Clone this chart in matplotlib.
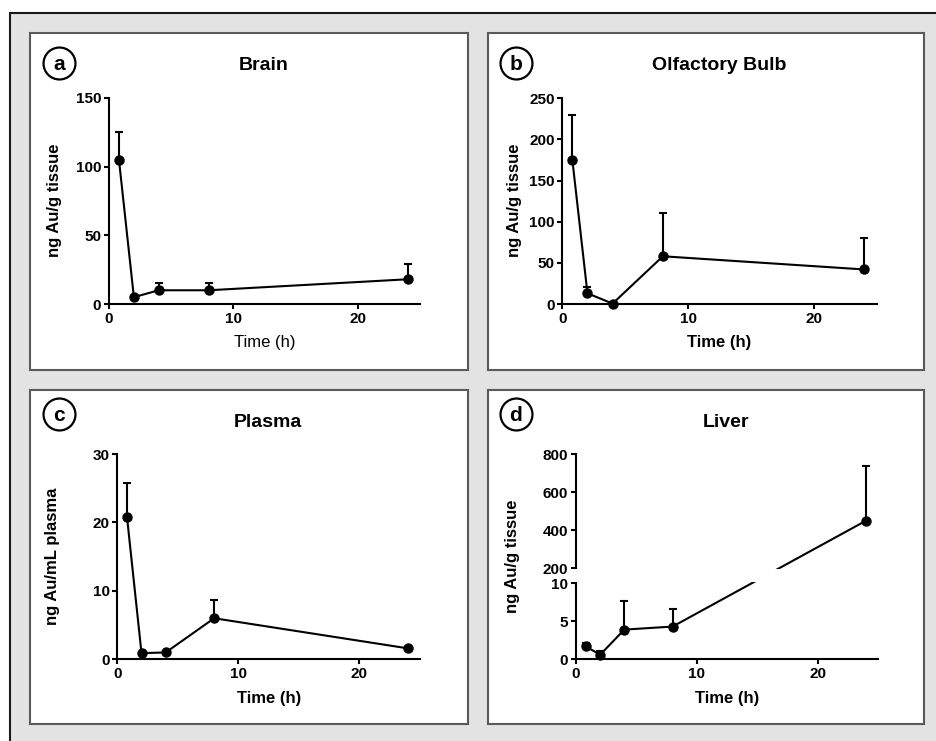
import numpy as np
import matplotlib
matplotlib.use("Agg")
import matplotlib.pyplot as plt
from matplotlib import font_manager
from matplotlib.patches import Rectangle
from matplotlib.lines import Line2D

# 采样时间 (h)
time_h = [0.8, 2, 4, 8, 24]
x_ticks = [0, 10, 20]

# 各组织金含量：均值与上误差
brain_mean = [105, 5, 10, 10, 18]
brain_err = [20, 0, 5, 5, 11]
brain_ticks = [0, 50, 100, 150]

bulb_mean = [175, 13, 0.5, 58, 42]
bulb_err = [55, 8, 0, 53, 38]
bulb_ticks = [0, 50, 100, 150, 200, 250]

plasma_mean = [20.8, 0.9, 1.0, 6.0, 1.6]
plasma_err = [4.9, 0, 0, 2.6, 0]
plasma_ticks = [0, 10, 20, 30]

liver_mean = [1.7, 0.6, 3.9, 4.3, 450]
liver_err = [0.4, 0.5, 3.8, 2.3, 290]
liver_ticks = [0, 5, 10, 200, 400, 600, 800]

titles = ["Brain", "Olfactory Bulb", "Plasma", "Liver"]
ylabels = ["ng Au/g tissue", "ng Au/g tissue", "ng Au/mL plasma", "ng Au/g tissue"]
letters = ["a", "b", "c", "d"]

W, H = 936, 741

# 字体：刻度用窄体
names = {f.name for f in font_manager.fontManager.ttflist}
if "Liberation Sans Narrow" in names:
    plt.rcParams["font.family"] = ["Liberation Sans Narrow", "Liberation Sans", "DejaVu Sans"]
    tick_size = 12
else:
    plt.rcParams["font.family"] = ["Liberation Sans", "DejaVu Sans"]
    tick_size = 11
plt.rcParams["font.weight"] = "bold"
MAIN = ["Liberation Sans", "DejaVu Sans"]


def px(x, y):
    return x / W, 1 - y / H


def ax_rect(left, top, right, bottom):
    return [left / W, 1 - bottom / H, (right - left) / W, (bottom - top) / H]


# 肝脏断轴：0-10 与 200-800 两段
LOW_TOP, HIGH_BOT = 10, 200
GAP, K = 1.97, 0.02493


def liver_fwd(y):
    y = np.asarray(y, dtype=float)
    mid = LOW_TOP + (y - LOW_TOP) / (HIGH_BOT - LOW_TOP) * GAP
    high = LOW_TOP + GAP + (y - HIGH_BOT) * K
    return np.where(y <= LOW_TOP, y, np.where(y >= HIGH_BOT, high, mid))


def liver_inv(t):
    t = np.asarray(t, dtype=float)
    mid = LOW_TOP + (t - LOW_TOP) / GAP * (HIGH_BOT - LOW_TOP)
    high = HIGH_BOT + (t - LOW_TOP - GAP) / K
    return np.where(t <= LOW_TOP, t, np.where(t >= LOW_TOP + GAP, high, mid))


fig = plt.figure(figsize=(W / 100, H / 100), dpi=100)
fig.patch.set_facecolor("white")

# 外框与面板底色
fig.add_artist(Rectangle((10 / W, -0.05), 1.1, 1 - 13 / H + 0.05, transform=fig.transFigure,
                         facecolor="#e3e3e3", edgecolor="#1a1a1a", lw=1.5, zorder=-2))
boxes = [(30, 33, 468, 370), (488, 33, 924, 370), (30, 390, 468, 724), (488, 390, 924, 724)]
for x0, y0, x1, y1 in boxes:
    fig.add_artist(Rectangle((x0 / W, 1 - y1 / H), (x1 - x0) / W, (y1 - y0) / H,
                             transform=fig.transFigure, facecolor="white",
                             edgecolor="#5a5a5a", lw=1.5, zorder=-1))

axes_px = [(109, 98, 420, 304), (562.3, 98.3, 876.6, 304),
           (117.3, 454, 420, 659.3), (576, 454.3, 878, 659.3)]
means = [brain_mean, bulb_mean, plasma_mean, liver_mean]
errs = [brain_err, bulb_err, plasma_err, liver_err]
yticks = [brain_ticks, bulb_ticks, plasma_ticks, liver_ticks]
title_pos = [(264, 66), (719, 66), (268, 422), (726, 422)]
ylab_pos = [(55, 200), (514, 200), (53, 556), (513, 556)]
xlab_pos = [(265, 343), (719, 343), (269, 698), (727, 698)]
circ_pos = [(59, 63), (516, 63), (59, 414), (516, 414)]

for i in range(4):
    ax = fig.add_axes(ax_rect(*axes_px[i]))
    ax.set_facecolor("none")
    for s in ("top", "right"):
        ax.spines[s].set_visible(False)
    for s in ("left", "bottom"):
        ax.spines[s].set_linewidth(1.5)

    if i == 3:
        ax.set_yscale("function", functions=(liver_fwd, liver_inv))
    ax.set_xlim(0, 25)
    ax.set_ylim(0, yticks[i][-1])
    ax.set_xticks(x_ticks)
    ax.set_yticks(yticks[i])
    ax.tick_params(direction="out", length=3.6, width=1.5, pad=2, labelsize=tick_size)

    line, caps, bars = ax.errorbar(time_h, means[i], yerr=[np.zeros(5), errs[i]],
                                   fmt="-o", color="black", lw=1.5, ms=6.5,
                                   capsize=2.6, capthick=1.5, elinewidth=1.5, zorder=3)
    caps[0].set_visible(False)
    for a in [line, *caps, *bars]:
        a.set_clip_on(False)

    if i == 3:
        # 断轴空隙
        ax.add_patch(Rectangle((-0.03, 25), 1.05, 160, transform=ax.get_yaxis_transform(),
                               facecolor="white", edgecolor="none", clip_on=False, zorder=6))

    ax.set_xlabel("Time (h)", family=MAIN, fontsize=12,
                  fontweight="normal" if i == 0 else "bold", va="center", ha="center")
    ax.xaxis.set_label_coords(*px(*xlab_pos[i]), transform=fig.transFigure)
    ax.set_ylabel(ylabels[i], family=MAIN, fontsize=12, fontweight="bold", va="center", ha="center")
    ax.yaxis.set_label_coords(*px(*ylab_pos[i]), transform=fig.transFigure)

    fig.text(*px(*title_pos[i]), titles[i], family=MAIN, fontsize=14, fontweight="bold",
             ha="center", va="center")
    cx, cy = px(*circ_pos[i])
    fig.add_artist(Line2D([cx], [cy], marker="o", markersize=23, mfc="none", mec="black",
                          mew=1.6, transform=fig.transFigure))
    fig.text(cx, cy - 0.002, letters[i], family=MAIN, fontsize=15, fontweight="bold",
             ha="center", va="center")

fig.savefig("out.png", dpi=100)
